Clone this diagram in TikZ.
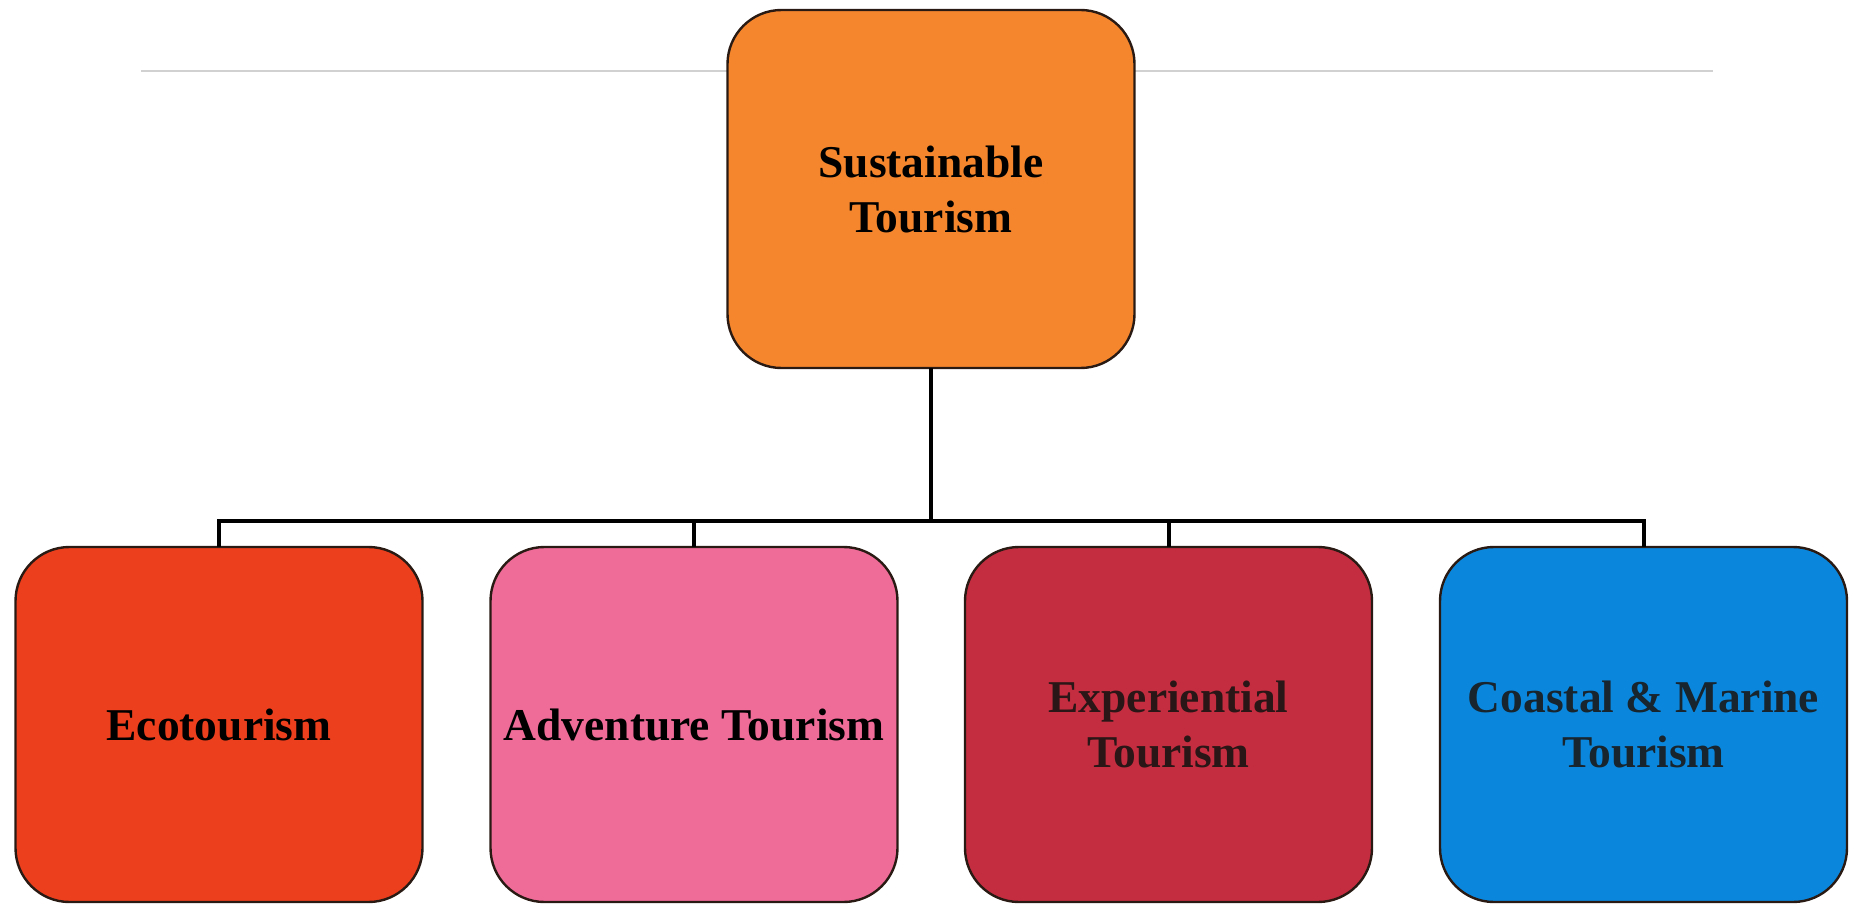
\documentclass[tikz,border=0pt]{standalone}
\usepackage{fontspec}
\setmainfont{Liberation Serif}
\definecolor{cTop}{HTML}{F5862D}
\definecolor{cEco}{HTML}{EC3F1D}
\definecolor{cAdv}{HTML}{EF6B98}
\definecolor{cExp}{HTML}{C42D40}
\definecolor{cCoast}{HTML}{0A87DC}
\definecolor{cEdge}{HTML}{2A1A14}
\definecolor{tExp}{HTML}{2A1616}
\definecolor{tCoast}{HTML}{18242E}
\begin{document}
\begin{tikzpicture}[x=0.5pt,y=-0.5pt,
  tbox/.style={rectangle, rounded corners=27pt, draw=cEdge, line width=1.2pt,
    minimum width=203.5pt, minimum height=177.5pt, inner sep=0pt, outer sep=0pt,
    align=center, font=\bfseries\fontsize{22.75}{27.5}\selectfont},
  link/.style={line width=2pt, draw=black, line join=miter}]
\useasboundingbox (0,0) rectangle (1854,904);
\draw[black!18, line width=0.8pt] (141,71) -- (1713,71);
\node[tbox, fill=cTop, minimum height=179pt] (top) at (931,189) {Sustainable\\Tourism};
\node[tbox, fill=cEco] (eco) at (219,724.5) {Ecotourism};
\node[tbox, fill=cAdv] (adv) at (694,724.5) {Adventure Tourism};
\node[tbox, fill=cExp, text=tExp] (exp) at (1168.5,724.5) {Experiential\\Tourism};
\node[tbox, fill=cCoast, text=tCoast] (coast) at (1643.5,724.5) {Coastal \& Marine\\Tourism};
\coordinate (bus) at (931,521);
\draw[link] (top.south) -- (bus);
\draw[link] (eco.north) -- (eco.north |- bus) -- (coast.north |- bus) -- (coast.north);
\draw[link] (adv.north) -- (adv.north |- bus);
\draw[link] (exp.north) -- (exp.north |- bus);
\end{tikzpicture}
\end{document}
